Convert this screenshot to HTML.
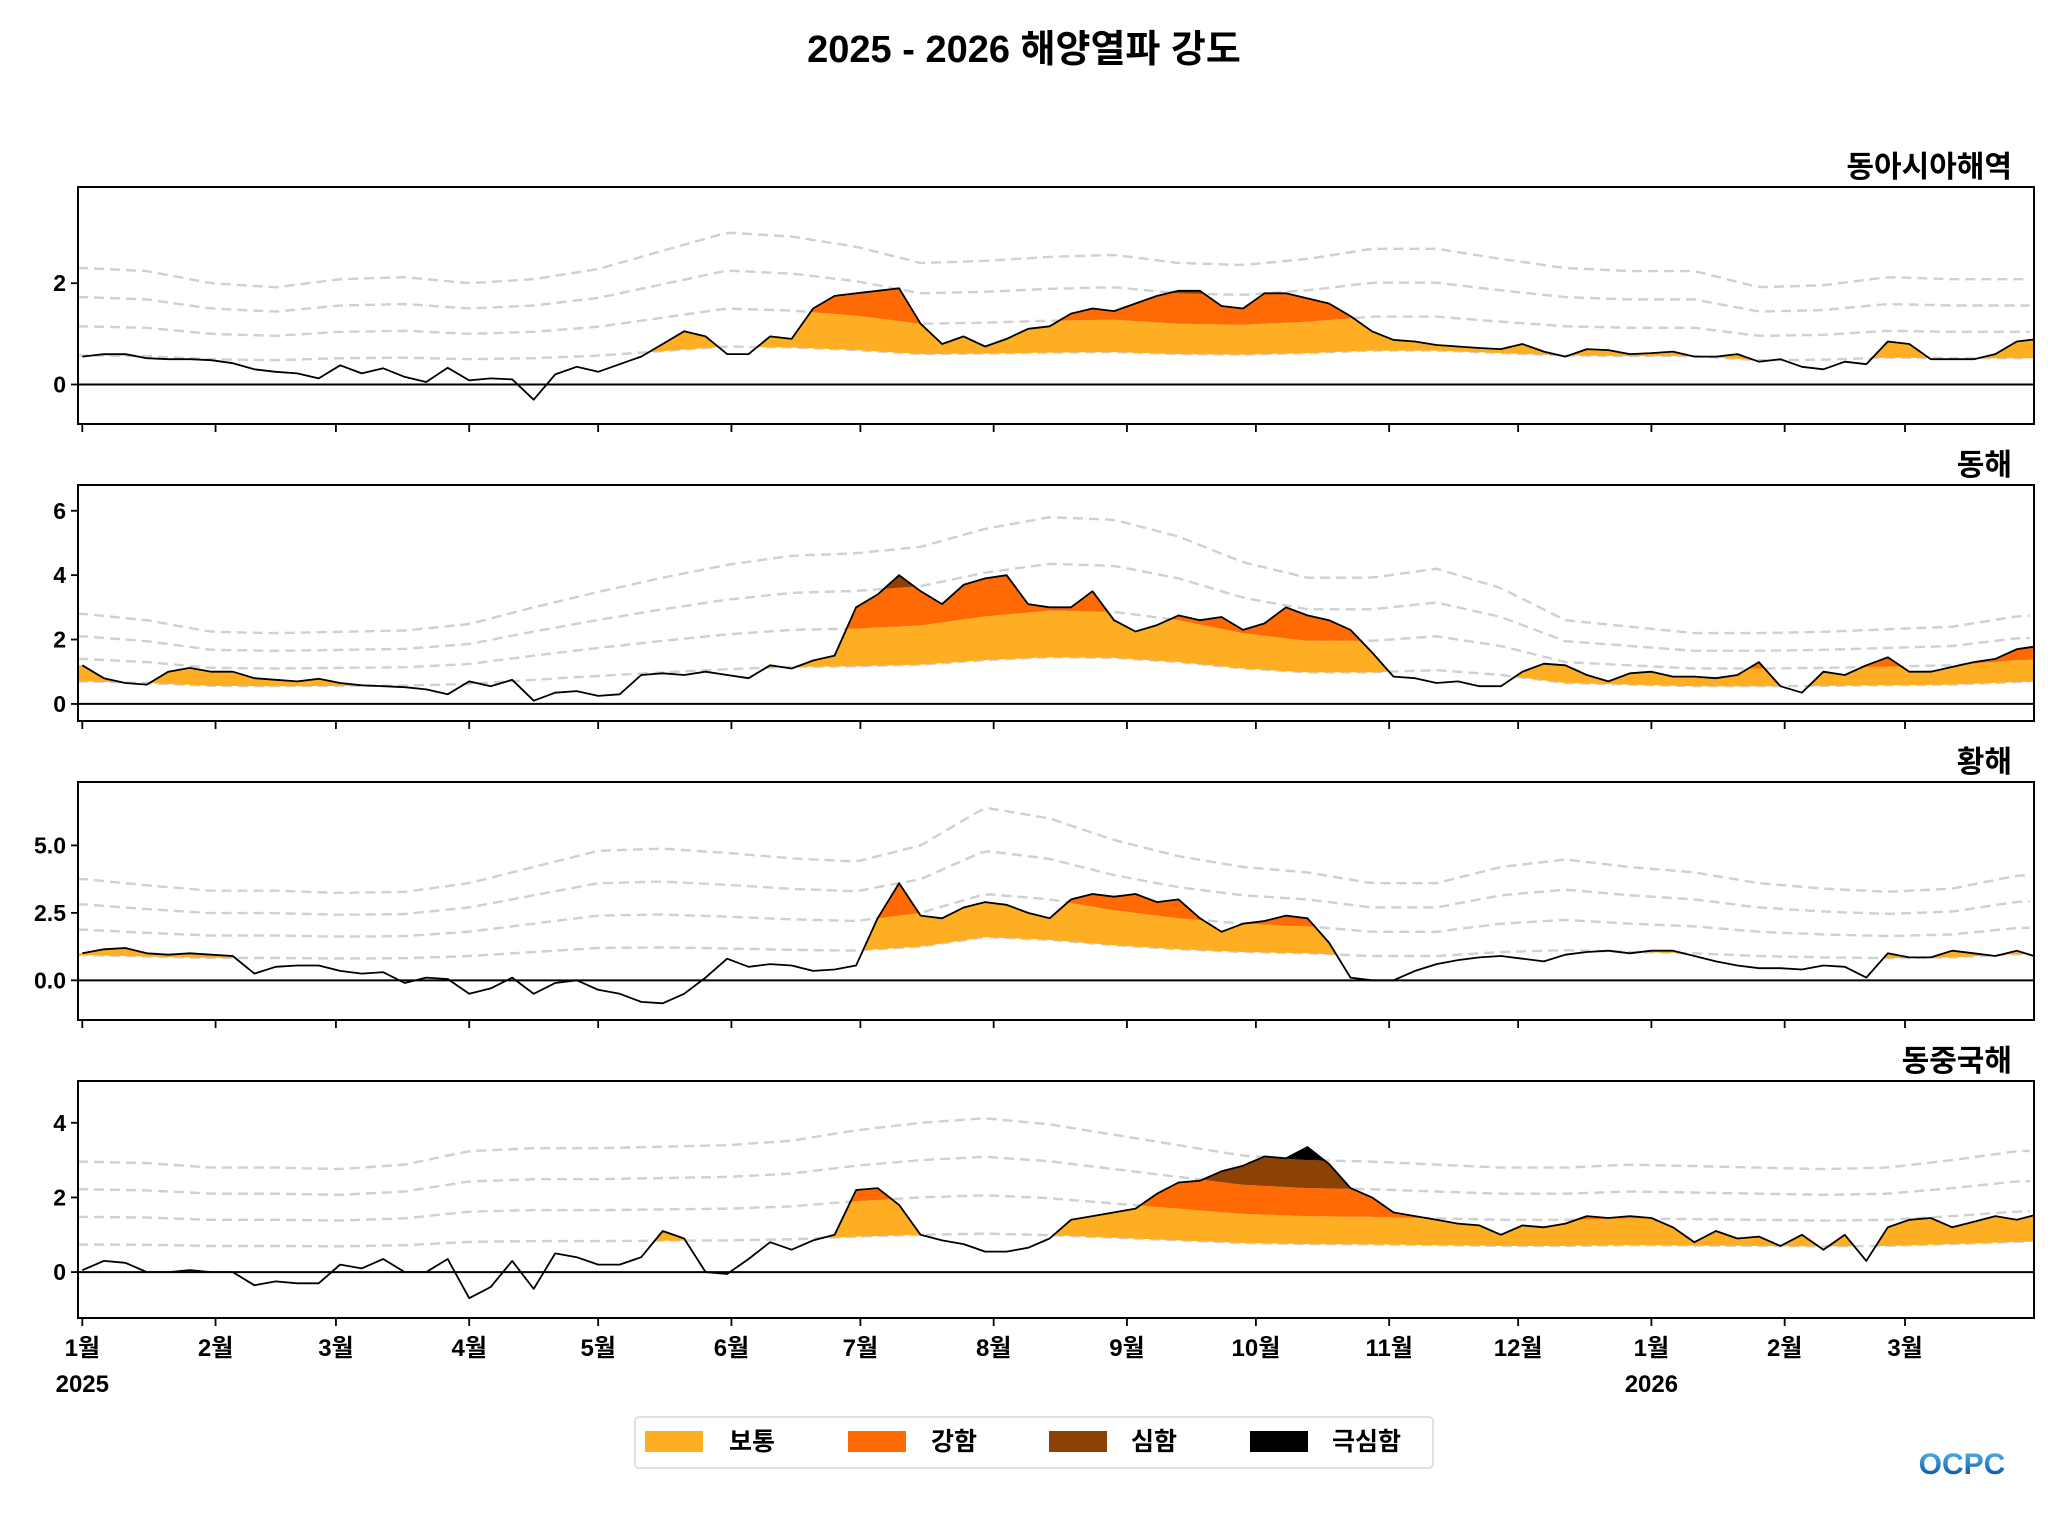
<!DOCTYPE html>
<html><head><meta charset="utf-8"><style>
html,body{margin:0;padding:0;background:#fff}
svg{display:block}
text{font-family:"Liberation Sans","Noto Sans CJK KR",sans-serif;font-weight:bold;fill:#000}
</style></head><body>
<svg id="chart" width="2048" height="1536" viewBox="0 0 2048 1536" xmlns="http://www.w3.org/2000/svg">
<text x="1024" y="62" text-anchor="middle" font-size="38">2025 - 2026 해양열파 강도</text>
<g id="panels"></g>
<g>
<rect x="635" y="1417" width="798" height="51" rx="4" fill="#fff" stroke="#d8d8d8" stroke-width="1.5"/>
<rect x="645" y="1431" width="58" height="21" fill="#fdae22"/>
<text x="729" y="1450" font-size="25">보통</text>
<rect x="848" y="1431" width="58" height="21" fill="#ff6a05"/>
<text x="931" y="1450" font-size="25">강함</text>
<rect x="1049" y="1431" width="58" height="21" fill="#8b4204"/>
<text x="1131" y="1450" font-size="25">심함</text>
<rect x="1250" y="1431" width="58" height="21" fill="#000"/>
<text x="1332" y="1450" font-size="25">극심함</text>
</g>
<defs><linearGradient id="lg" x1="0" y1="0" x2="0" y2="1"><stop offset="0" stop-color="#5ab8e8"/><stop offset="0.5" stop-color="#2a86c8"/><stop offset="1" stop-color="#0a3d8f"/></linearGradient></defs>
<text x="1962" y="1474" text-anchor="middle" font-size="30" fill="url(#lg)" style="fill:url(#lg)">OCPC</text>
</svg>
<script>
const monthDays = [0,31,59,90,120,151,181,212,243,273,304,334,365,396,424];
const monthLabels = ["1월","2월","3월","4월","5월","6월","7월","8월","9월","10월","11월","12월","1월","2월","3월"];
const panelTitles = ["동아시아해역","동해","황해","동중국해"];
const yTicks1 = [0,2];
const yTicks2 = [0,2,4,6];
const yTicks3 = [0,2.5,5];
const yTickLabels3 = ["0.0","2.5","5.0"];
const yTicks4 = [0,2,4];
// anomaly sampled every 5 days from Jan 1 2025
const anom1 = [.55,.6,.6,.52,.5,.5,.48,.42,.3,.25,.22,.12,.38,.22,.32,.15,.05,.33,.08,.12,.1,-.3,.2,.35,.25,.4,.55,.8,1.05,.95,.6,.6,.95,.9,1.5,1.75,1.8,1.85,1.9,1.2,.8,.95,.75,.9,1.1,1.15,1.4,1.5,1.45,1.6,1.75,1.85,1.85,1.55,1.5,1.8,1.8,1.7,1.6,1.35,1.05,.88,.85,.78,.75,.72,.7,.8,.65,.55,.7,.68,.6,.62,.65,.55,.55,.6,.45,.5,.35,.3,.45,.4,.85,.8,.5,.5,.5,.6,.85,.9];
const anom2 = [1.2,.8,.65,.6,1.0,1.12,1.0,1.0,.8,.75,.7,.78,.65,.58,.55,.52,.45,.3,.7,.55,.75,.1,.35,.4,.25,.3,.9,.95,.9,1.0,.9,.8,1.2,1.1,1.35,1.5,3.0,3.4,4.0,3.5,3.1,3.7,3.9,4.0,3.1,3.0,3.0,3.5,2.6,2.25,2.45,2.75,2.6,2.7,2.3,2.5,3.0,2.75,2.6,2.3,1.6,.85,.8,.65,.7,.55,.55,1.0,1.25,1.2,.9,.7,.95,1.0,.85,.85,.8,.9,1.3,.55,.35,1.0,.9,1.2,1.45,1.0,1.0,1.15,1.3,1.4,1.7,1.8];
const anom3 = [1.0,1.15,1.2,1.0,.95,1.0,.95,.9,.25,.5,.55,.55,.35,.25,.3,-.1,.1,.05,-.5,-.3,.1,-.5,-.1,0,-.35,-.5,-.8,-.85,-.5,.1,.8,.5,.6,.55,.35,.4,.55,2.3,3.6,2.4,2.3,2.7,2.9,2.8,2.5,2.3,3.0,3.2,3.1,3.2,2.9,3.0,2.3,1.8,2.1,2.2,2.4,2.3,1.4,.1,0,0,.35,.6,.75,.85,.9,.8,.7,.95,1.05,1.1,1.0,1.1,1.1,.9,.7,.55,.45,.45,.4,.55,.5,.1,1.0,.85,.85,1.1,1.0,.9,1.1,.85];
const anom4 = [.05,.3,.25,0,0,.05,0,0,-.35,-.25,-.3,-.3,.2,.1,.35,0,0,.35,-.7,-.4,.3,-.45,.5,.4,.2,.2,.4,1.1,.9,0,-.05,.35,.8,.6,.85,1.0,2.2,2.25,1.8,1.0,.85,.75,.55,.55,.65,.9,1.4,1.5,1.6,1.7,2.1,2.4,2.45,2.7,2.85,3.1,3.05,3.35,2.9,2.25,2.0,1.6,1.5,1.4,1.3,1.25,1.0,1.25,1.2,1.3,1.5,1.45,1.5,1.45,1.2,.8,1.1,.9,.95,.7,1.0,.6,1.0,.3,1.2,1.4,1.45,1.2,1.35,1.5,1.4,1.55];
// moderate threshold anomaly sampled every 15 days
const thr1 = [.575,.56,.50,.48,.52,.53,.50,.52,.57,.66,.75,.73,.68,.60,.61,.63,.64,.60,.59,.62,.67,.67,.62,.575,.56,.56,.48,.49,.53,.52,.52,.52];
const thr2 = [.7,.65,.56,.55,.56,.57,.62,.75,.87,.98,1.08,1.15,1.17,1.22,1.36,1.45,1.43,1.3,1.1,.98,.98,1.05,.9,.65,.6,.55,.55,.56,.58,.6,.68,.7];
const thr3 = [.94,.88,.83,.83,.81,.82,.9,1.05,1.2,1.22,1.18,1.13,1.1,1.25,1.6,1.5,1.3,1.15,1.05,1.0,.9,.9,1.05,1.12,1.05,1.0,.9,.85,.82,.85,.97,.99];
const thr4 = [.74,.73,.7,.7,.69,.72,.81,.83,.83,.84,.85,.88,.95,1.0,1.03,.99,.92,.85,.78,.75,.74,.72,.7,.7,.72,.71,.7,.69,.7,.75,.81,.82];

const panels = [
 {title:panelTitles[0],anom:anom1,thr:thr1,ticks:yTicks1,labels:yTicks1.map(String),top:187,bot:424,ymin:-0.78,ymax:3.9},
 {title:panelTitles[1],anom:anom2,thr:thr2,ticks:yTicks2,labels:yTicks2.map(String),top:485,bot:721,ymin:-0.53,ymax:6.8},
 {title:panelTitles[2],anom:anom3,thr:thr3,ticks:yTicks3,labels:yTickLabels3,top:782,bot:1020,ymin:-1.47,ymax:7.35},
 {title:panelTitles[3],anom:anom4,thr:thr4,ticks:yTicks4,labels:yTicks4.map(String),top:1081,bot:1318,ymin:-1.23,ymax:5.12}
];
const L=78,R=2034,D0=-1,D1=454;
const NS="http://www.w3.org/2000/svg";
const xs = d => L + (d - D0) * (R - L) / (D1 - D0);
function mk(tag, attrs, parent){const e=document.createElementNS(NS,tag);for(const k in attrs)e.setAttribute(k,attrs[k]);parent.appendChild(e);return e;}
function sample(arr, step, d){const i=d/step;const i0=Math.max(0,Math.min(arr.length-1,Math.floor(i)));const i1=Math.min(arr.length-1,i0+1);const f=Math.max(0,Math.min(1,i-i0));return arr[i0]*(1-f)+arr[i1]*f;}
const colors=["#fdae22","#ff6a05","#8b4204","#000000"];
const names=["moderate","strong","severe","extreme"];
const root=document.getElementById('panels');
panels.forEach((p,pi)=>{
  const ys=v=>p.bot-(v-p.ymin)*(p.bot-p.top)/(p.ymax-p.ymin);
  const g=mk('g',{},root);
  
  
  const cid='clip'+pi;
  const cp=mk('clipPath',{id:cid},g);mk('rect',{x:L,y:p.top,width:R-L,height:p.bot-p.top},cp);
  const pg=mk('g',{'clip-path':'url(#'+cid+')'},g);
  const days=[];for(let d=D0;d<=D1;d+=0.5)days.push(d);
  const A=d=>sample(p.anom,5,Math.max(0,d));
  const T=d=>sample(p.thr,15,Math.max(0,d));
  for(let k=1;k<=4;k++){
    const pts=days.filter((d,i)=>i%4==0).map(d=>xs(d).toFixed(1)+','+ys(k*T(d)).toFixed(1)).join(' ');
    const pl=mk('polyline',{points:pts,fill:'none',stroke:'#d0d0d0','stroke-width':2.4,'stroke-dasharray':'10,6'},pg);
    
    
  }
  for(let k=1;k<=4;k++){
    let up=[],lo=[];
    days.forEach(d=>{const t=T(d),a=A(d);const lower=k*t;const cap=k<4?(k+1)*t:1e9;const u=Math.max(lower,Math.min(a,cap));up.push(xs(d).toFixed(1)+','+ys(u).toFixed(1));lo.push(xs(d).toFixed(1)+','+ys(lower).toFixed(1));});
    const poly=mk('polygon',{points:up.concat(lo.reverse()).join(' '),fill:colors[k-1]},pg);
    
    
  }
  const z=mk('line',{x1:L,x2:R,y1:ys(0),y2:ys(0),stroke:'#000','stroke-width':2},pg);
  
  
  const pts=p.anom.map((v,i)=>xs(i*5).toFixed(1)+','+ys(v).toFixed(1)).join(' ');
  const al=mk('polyline',{points:pts,fill:'none',stroke:'#000','stroke-width':1.8,'stroke-linejoin':'round'},pg);
  
  
  const fr=mk('rect',{x:L,y:p.top,width:R-L,height:p.bot-p.top,fill:'none',stroke:'#000','stroke-width':2},g);
  
  
  const tt=mk('text',{x:2012,y:p.top-10,'text-anchor':'end','font-size':30},g);tt.textContent=p.title;
  
  
  p.ticks.forEach((v,i)=>{
    mk('line',{x1:L-7,x2:L,y1:ys(v),y2:ys(v),stroke:'#000','stroke-width':1.8},g);
    const t=mk('text',{x:L-12,y:ys(v)+8,'text-anchor':'end','font-size':23},g);t.textContent=p.labels[i];
    
    
  });
  monthDays.forEach((d,i)=>{
    mk('line',{x1:xs(d),x2:xs(d),y1:p.bot,y2:p.bot+8,stroke:'#000','stroke-width':1.8},g);
    if(pi==3){
      const t=mk('text',{x:xs(d),y:p.bot+38,'text-anchor':'middle','font-size':24},g);t.textContent=monthLabels[i];
      
      
    }
  });
  if(pi==3){
    [[0,'2025'],[365,'2026']].forEach(([d,s])=>{
      const t=mk('text',{x:xs(d),y:p.bot+74,'text-anchor':'middle','font-size':24},g);t.textContent=s;
      
      
    });
  }
});
</script>
</body></html>
